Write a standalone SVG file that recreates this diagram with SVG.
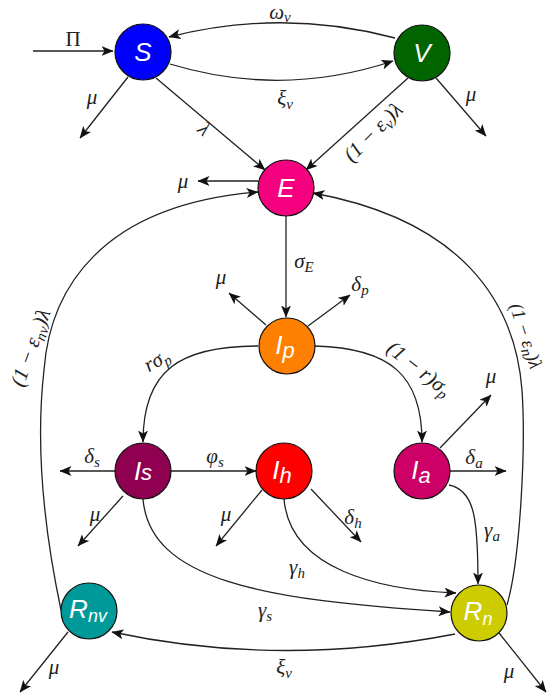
<svg xmlns="http://www.w3.org/2000/svg" width="549" height="698" viewBox="0 0 549 698">
<style>
.e{fill:none;stroke:#222;stroke-width:1.3}
.n{stroke:#111;stroke-width:1.2}
.nl{font-family:"Liberation Sans",Arial,sans-serif;font-style:italic;font-size:26px;fill:#fff;text-anchor:middle}
.m{font-family:"Liberation Serif","Times New Roman",serif;font-style:italic;font-size:21px;fill:#222;text-anchor:middle}
.s{font-size:15px}
</style>
<defs>
<marker id="ah" viewBox="0 0 12 10" refX="11.5" refY="5" markerWidth="12" markerHeight="10" orient="auto" markerUnits="userSpaceOnUse"><path d="M0,0 L12,5 L0,10 L3,5 z" fill="#111"/></marker>
</defs>
<rect width="549" height="698" fill="#fff"/>
<g id="connectors">
<path class="e" d="M33,51 L113,51" marker-end="url(#ah)"/>
<path class="e" d="M170,64 Q282,98 393,61" marker-end="url(#ah)"/>
<path class="e" d="M395,38 Q282,8 169,37" marker-end="url(#ah)"/>
<path class="e" d="M128,77 L80,138" marker-end="url(#ah)"/>
<path class="e" d="M156,78 L265,170" marker-end="url(#ah)"/>
<path class="e" d="M408,78 L306,170" marker-end="url(#ah)"/>
<path class="e" d="M436,78 L486,136" marker-end="url(#ah)"/>
<path class="e" d="M258,181 L198,181" marker-end="url(#ah)"/>
<path class="e" d="M61,610 C42,520 36,440 44,370 C50,290 100,205 258,192" marker-end="url(#ah)"/>
<path class="e" d="M507,605 C520,560 526,450 522,390 C515,300 460,220 313,193" marker-end="url(#ah)"/>
<path class="e" d="M286,216 L286,317" marker-end="url(#ah)"/>
<path class="e" d="M266,325 L229,293" marker-end="url(#ah)"/>
<path class="e" d="M308,326 L350,295" marker-end="url(#ah)"/>
<path class="e" d="M258,346 C180,346 143,370 143,442" marker-end="url(#ah)"/>
<path class="e" d="M315,346 C390,348 422,375 422,442" marker-end="url(#ah)"/>
<path class="e" d="M440,448 L491,395" marker-end="url(#ah)"/>
<path class="e" d="M450,471 L506,471" marker-end="url(#ah)"/>
<path class="e" d="M449,485 C475,490 478,520 478,584" marker-end="url(#ah)"/>
<path class="e" d="M115,471 L60,471" marker-end="url(#ah)"/>
<path class="e" d="M171,471 L256,471" marker-end="url(#ah)"/>
<path class="e" d="M123,496 L78,546" marker-end="url(#ah)"/>
<path class="e" d="M262,490 L216,546" marker-end="url(#ah)"/>
<path class="e" d="M311,489 L361,542" marker-end="url(#ah)"/>
<path class="e" d="M284,499 C290,570 380,590 456,593" marker-end="url(#ah)"/>
<path class="e" d="M143,499 C150,580 260,600 450,612" marker-end="url(#ah)"/>
<path class="e" d="M455,634 Q280,668 112,632" marker-end="url(#ah)"/>
<path class="e" d="M68,632 L20,692" marker-end="url(#ah)"/>
<path class="e" d="M499,633 L546,692" marker-end="url(#ah)"/>
</g>
<g id="labels">
<text x="73" y="46" class="m" style="font-style:normal">Π</text>
<text x="280" y="19" class="m">ω<tspan class="s" dy="3">v</tspan></text>
<text x="285" y="105" class="m">ξ<tspan class="s" dy="4">v</tspan></text>
<text x="92" y="104" class="m">μ</text>
<text x="471" y="101" class="m">μ</text>
<text x="183" y="188" class="m">μ</text>
<text class="m" transform="translate(200,134) rotate(40)">λ</text>
<text class="m" transform="translate(378,137) rotate(-45)">(1 − ε<tspan class="s" dy="4">v</tspan><tspan dy="-4">)λ</tspan></text>
<text class="m" transform="translate(37,350) rotate(-70)">(1 − ε<tspan class="s" dy="4">nv</tspan><tspan dy="-4">)λ</tspan></text>
<text class="m" style="font-size:19px" transform="translate(520,338) rotate(72)">(1 − ε<tspan class="s" dy="3">n</tspan><tspan dy="-3">)λ</tspan></text>
<text x="304" y="268" class="m">σ<tspan class="s" dy="4">E</tspan></text>
<text x="221" y="284" class="m">μ</text>
<text x="360" y="291" class="m">δ<tspan class="s" dy="4">p</tspan></text>
<text class="m" transform="translate(160,366) rotate(-30)">rσ<tspan class="s" dy="4">p</tspan></text>
<text class="m" transform="translate(415,374) rotate(38)">(1 − r)σ<tspan class="s" dy="4">p</tspan></text>
<text x="92" y="463" class="m">δ<tspan class="s" dy="4">s</tspan></text>
<text x="215" y="463" class="m">φ<tspan class="s" dy="4">s</tspan></text>
<text x="95" y="521" class="m">μ</text>
<text x="226" y="521" class="m">μ</text>
<text x="353" y="524" class="m">δ<tspan class="s" dy="4">h</tspan></text>
<text x="474" y="464" class="m">δ<tspan class="s" dy="4">a</tspan></text>
<text x="491" y="383" class="m">μ</text>
<text x="492" y="537" class="m">γ<tspan class="s" dy="4">a</tspan></text>
<text x="297" y="574" class="m">γ<tspan class="s" dy="4">h</tspan></text>
<text x="265" y="617" class="m">γ<tspan class="s" dy="4">s</tspan></text>
<text x="284" y="674" class="m">ξ<tspan class="s" dy="4">v</tspan></text>
<text x="54" y="674" class="m">μ</text>
<text x="509" y="678" class="m">μ</text>
</g>
<g id="S"><circle class="n" cx="143" cy="52" r="28" fill="#0000ff"/><text x="143" y="61" class="nl">S</text></g>
<g id="V"><circle class="n" cx="422" cy="53" r="28" fill="#006400"/><text x="422" y="62" class="nl">V</text></g>
<g id="E"><circle class="n" cx="286" cy="188" r="28" fill="#f5007f"/><text x="286" y="197" class="nl">E</text></g>
<g id="Ip"><circle class="n" cx="287" cy="346" r="28" fill="#ff8000"/><text x="285" y="354" class="nl">I<tspan dy="4" style="font-size:22px">p</tspan></text></g>
<g id="Is"><circle class="n" cx="143" cy="471" r="28" fill="#900050"/><text x="143" y="480" class="nl">I<tspan style="font-size:22px">s</tspan></text></g>
<g id="Ih"><circle class="n" cx="284" cy="471" r="28" fill="#ff0000"/><text x="282" y="479" class="nl">I<tspan dy="4" style="font-size:22px">h</tspan></text></g>
<g id="Ia"><circle class="n" cx="422" cy="471" r="28" fill="#cc0066"/><text x="421" y="479" class="nl">I<tspan dy="4" style="font-size:22px">a</tspan></text></g>
<g id="Rnv"><circle class="n" cx="89" cy="611" r="28" fill="#009999"/><text x="88" y="618" class="nl">R<tspan dy="4" style="font-size:18px">nv</tspan></text></g>
<g id="Rn"><circle class="n" cx="479" cy="613" r="28" fill="#cccc00"/><text x="478" y="620" class="nl">R<tspan dy="5" style="font-size:18px">n</tspan></text></g>
</svg>
